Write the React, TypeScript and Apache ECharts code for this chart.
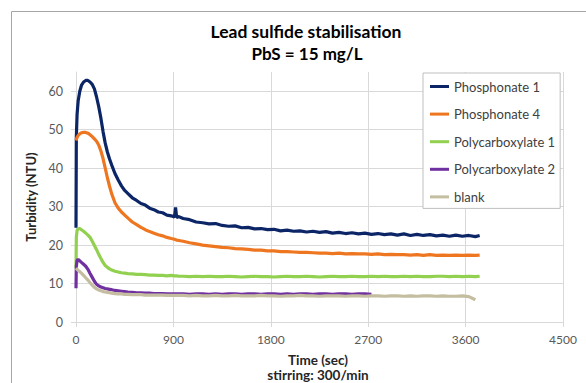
import React, { useEffect, useRef } from "react";
import * as echarts from "echarts";

const times = [
  0, 3, 10, 20, 35, 50, 70, 90, 110, 130,
  150, 170, 190, 210, 230, 250, 270, 290, 310, 330,
  360, 390, 420, 450, 480, 520, 560, 600, 640, 680,
  720, 760, 800, 840, 880, 910, 920, 930, 950,
  990, 1050, 1110, 1170, 1230, 1290, 1350, 1410, 1470, 1530,
  1590, 1650, 1710, 1770, 1830, 1890, 1950, 2010, 2070, 2130,
  2190, 2250, 2310, 2370, 2430, 2490, 2550, 2610, 2670, 2730,
  2790, 2850, 2910, 2970, 3030, 3090, 3150, 3210, 3270, 3330,
  3390, 3450, 3510, 3570, 3630, 3690, 3730,
];

const phosphonate1 = [
  24.5, 48, 54, 57.5, 60, 61.5, 62.4, 62.8, 62.8, 62.4,
  61.8, 60.6, 58.5, 56, 53, 49.5, 46.5, 44.2, 42.4, 40.8,
  38.6, 36.9, 35.4, 34.2, 33.4, 32.3, 31.6, 30.8, 30.4, 29.6,
  29.2, 28.6, 28.4, 27.8, 27.6, 27.3, 29.8, 27.2, 27.4,
  26.9, 26.6, 26.0, 25.8, 25.5, 25.6, 25.1, 24.9, 25.0, 24.5,
  24.6, 24.2, 24.3, 24.0, 24.1, 23.7, 23.9, 23.6, 23.7, 23.4,
  23.6, 23.3, 23.5, 23.1, 23.3, 23.0, 23.2, 22.9, 23.1, 22.8,
  23.0, 22.7, 22.9, 22.6, 22.9, 22.5, 22.8, 22.5, 22.7, 22.4,
  22.6, 22.3, 22.6, 22.3, 22.5, 22.2, 22.5,
];

const phosphonate4 = [
  47.2, 47.5, 48.0, 48.5, 48.9, 49.2, 49.3, 49.3, 49.1, 48.7,
  48.2, 47.6, 47.0, 46.0, 44.5, 42.5, 40.0, 37.5, 35.3, 33.3,
  31.0, 29.6, 28.6, 27.8, 27.0, 26.0, 25.3, 24.6, 24.0, 23.5,
  23.1, 22.7, 22.4, 22.0, 21.7, 21.5, 21.4, 21.3, 21.2,
  21.0, 20.6, 20.3, 20.0, 19.8, 19.6, 19.4, 19.3, 19.1, 19.0,
  18.9, 18.7, 18.7, 18.5, 18.5, 18.3, 18.3, 18.2, 18.1, 18.1,
  18.0, 17.9, 17.9, 17.8, 17.9, 17.7, 17.8, 17.7, 17.7, 17.6,
  17.7, 17.5, 17.6, 17.5, 17.5, 17.4, 17.5, 17.3, 17.5, 17.3,
  17.4, 17.3, 17.4, 17.3, 17.4, 17.3, 17.4,
];

const polycarboxylate1 = [
  14.0, 22.0, 23.8, 24.2, 24.3, 24.0, 23.6, 23.1, 22.6, 22.0,
  21.0, 19.9, 18.8, 17.6, 16.5, 15.5, 14.7, 14.2, 13.8, 13.5,
  13.2, 13.0, 12.8, 12.7, 12.6, 12.5, 12.4, 12.4, 12.3, 12.2,
  12.2, 12.1, 12.1, 12.0, 12.1, 12.0, 12.0, 12.0, 11.9,
  11.9, 11.8, 11.9, 11.8, 11.9, 11.8, 11.8, 11.9, 11.8, 11.7,
  11.8, 11.9, 11.8, 11.8, 11.7, 11.8, 11.9, 11.8, 11.8, 11.9,
  11.8, 11.7, 11.8, 11.9, 11.8, 11.8, 11.9, 11.8, 11.8, 11.9,
  11.8, 11.9, 11.8, 11.8, 11.9, 11.8, 11.9, 11.8, 11.8, 11.9,
  11.9, 11.8, 11.9, 11.8, 11.9, 11.8, 11.9,
];

const polycarboxylate2 = [
  8.8, 14.5, 16.0, 16.3, 15.9, 15.5, 15.0, 14.5, 13.7, 12.6,
  11.6, 10.6, 9.8, 9.4, 9.1, 8.9, 8.7, 8.6, 8.5, 8.4,
  8.2, 8.1, 8.0, 7.9, 7.8, 7.7, 7.6, 7.6, 7.5, 7.5,
  7.4, 7.4, 7.4, 7.3, 7.3, 7.3, 7.3, 7.3, 7.3,
  7.3, 7.2, 7.3, 7.3, 7.2, 7.3, 7.2, 7.3, 7.3, 7.2,
  7.3, 7.3, 7.2, 7.3, 7.3, 7.2, 7.3, 7.2, 7.3, 7.3,
  7.2, 7.3, 7.3, 7.2, 7.3, 7.3, 7.2, 7.3, 7.3, 7.2,
];

const blank = [
  14.0, 13.9, 13.7, 13.4, 13.1, 12.7, 12.1, 11.5, 10.9, 10.2,
  9.6, 9.0, 8.6, 8.3, 8.1, 7.9, 7.8, 7.7, 7.6, 7.5,
  7.4, 7.3, 7.3, 7.2, 7.2, 7.1, 7.1, 7.1, 7.0, 7.0,
  7.0, 7.0, 7.0, 6.9, 6.9, 6.9, 6.9, 6.9, 6.9,
  6.9, 6.8, 6.9, 6.8, 6.8, 6.9, 6.8, 6.8, 6.9, 6.8,
  6.8, 6.8, 6.9, 6.8, 6.8, 6.7, 6.8, 6.8, 6.9, 6.8,
  6.8, 6.7, 6.8, 6.8, 6.8, 6.7, 6.8, 6.8, 6.7, 6.8,
  6.8, 6.7, 6.8, 6.8, 6.7, 6.8, 6.7, 6.8, 6.8, 6.7,
  6.8, 6.7, 6.7, 6.8, 6.6, 5.8,
];

const seriesNames = ["Phosphonate 1", "Phosphonate 4", "Polycarboxylate 1", "Polycarboxylate 2", "blank"];
const seriesValues = [phosphonate1, phosphonate4, polycarboxylate1, polycarboxylate2, blank];
const seriesColors = ["#0b2566", "#ef7620", "#92d050", "#7030a0", "#c4bda0"];

const xTicks = { min: 0, max: 4500, interval: 900 };
const yTicks = { min: 0, max: 65, interval: 10 };

const FONT = "Lato";
const LEGEND_ICON = "path://M0,0h19v3h-19z";

export default function App() {
  const ref = useRef<HTMLDivElement>(null);
  useEffect(() => {
    document.body.style.margin = "0";
    const chart = echarts.init(ref.current!, null, { renderer: "svg" });
    const toPairs = (vals: number[]) => vals.map((v, i) => [times[i], v]);
    const option: any = {
      animation: false,
      backgroundColor: "#ffffff",
      grid: { left: 76, right: 23, top: 72, bottom: 61, containLabel: false },
      xAxis: {
        type: "value",
        min: xTicks.min,
        max: xTicks.max,
        interval: xTicks.interval,
        axisLine: { show: true, lineStyle: { color: "#d9d9d9", width: 1 } },
        axisTick: { show: true, length: 5, lineStyle: { color: "#d9d9d9" } },
        axisLabel: {
          color: "#595959",
          fontFamily: FONT,
          fontSize: 12,
          margin: 11,
          formatter: (v: number) => String(v),
        },
        splitLine: { show: true, lineStyle: { color: "#d9d9d9", width: 1 } },
      },
      yAxis: {
        type: "value",
        min: yTicks.min,
        max: yTicks.max,
        interval: yTicks.interval,
        name: "Turbidity (NTU)",
        nameLocation: "middle",
        nameGap: 37,
        nameRotate: 90,
        nameTextStyle: { fontFamily: FONT, fontWeight: "bold", fontSize: 13, color: "#262626" },
        axisLine: { show: true, lineStyle: { color: "#d9d9d9", width: 1 } },
        axisTick: { show: true, length: 5, lineStyle: { color: "#d9d9d9" } },
        axisLabel: { color: "#595959", fontFamily: FONT, fontSize: 12.5, margin: 13, showMaxLabel: false },
        splitLine: { show: true, showMaxLine: false, lineStyle: { color: "#d9d9d9", width: 1 } },
      },
      legend: {
        orient: "vertical",
        left: 423,
        top: 73,
        data: seriesNames.map((name) => ({ name, icon: LEGEND_ICON })),
        itemWidth: 19,
        itemHeight: 14,
        itemGap: 14.6,
        padding: [7, 5, 5, 7],
        borderColor: "#bfbfbf",
        borderWidth: 1,
        borderRadius: 0,
        backgroundColor: "#ffffff",
        textStyle: { fontFamily: FONT, fontSize: 13, color: "#404040" },
      },
      series: seriesNames.map((name, k) => ({
        name,
        type: "line",
        data: toPairs(seriesValues[k]),
        symbol: "none",
        showSymbol: false,
        smooth: false,
        color: seriesColors[k],
        lineStyle: { color: seriesColors[k], width: 3.2 },
        itemStyle: { color: seriesColors[k] },
      })),
      graphic: [
        {
          type: "rect",
          silent: true,
          shape: { x: 11.5, y: 11.5, width: 620, height: 420 },
          style: { fill: "none", stroke: "#a6a6a6", lineWidth: 1 },
        },
        {
          type: "text",
          x: 306,
          y: 31,
          style: {
            text: "Lead sulfide stabilisation",
            font: `bold 17.5px ${FONT}`,
            fill: "#000000",
            textAlign: "center",
            textVerticalAlign: "middle",
          },
        },
        {
          type: "text",
          x: 307,
          y: 53,
          style: {
            text: "PbS = 15 mg/L",
            font: `bold 17px ${FONT}`,
            fill: "#000000",
            textAlign: "center",
            textVerticalAlign: "middle",
          },
        },
        {
          type: "text",
          x: 318,
          y: 360,
          style: {
            text: "Time (sec)",
            font: `bold 13.5px ${FONT}`,
            fill: "#262626",
            textAlign: "center",
            textVerticalAlign: "middle",
          },
        },
        {
          type: "text",
          x: 318,
          y: 375,
          style: {
            text: "stirring: 300/min",
            font: `bold 13.5px ${FONT}`,
            fill: "#262626",
            textAlign: "center",
            textVerticalAlign: "middle",
          },
        },
      ],
    };
    chart.setOption(option);
    return () => chart.dispose();
  }, []);
  return <div ref={ref} style={{ width: 586, height: 383 }} />;
}
